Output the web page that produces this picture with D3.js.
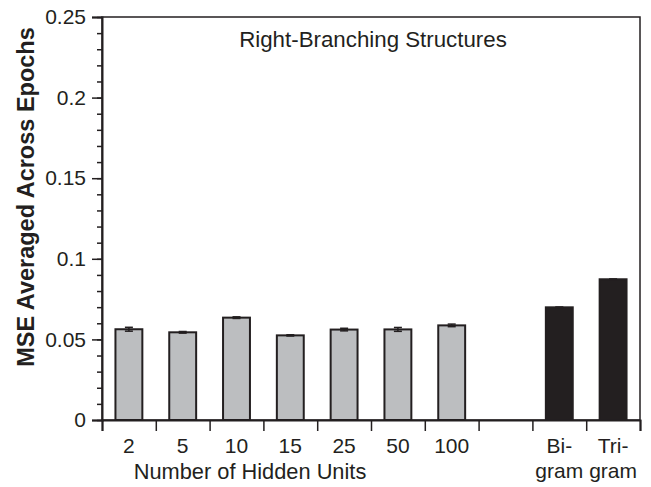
<!DOCTYPE html>
<html><head><meta charset="utf-8">
<script src="https://cdn.jsdelivr.net/npm/d3@7"></script>
<style>body{margin:0;background:#fff}svg{display:block}</style>
</head><body>
<script>
const categories = ["2","5","10","15","25","50","100","","Bi-\ngram","Tri-\ngram"];
const values = [0.0563,0.0544,0.0635,0.0525,0.0561,0.0562,0.0587,0,0.0699,0.0873];
const errors = [0.0012,0.0005,0.0005,0.0004,0.0008,0.0012,0.0008,0,0.0002,0.0002];
const kinds = ["net","net","net","net","net","net","net","none","ngram","ngram"];
const yTicks = [0,0.05,0.1,0.15,0.2,0.25];
const yTickLabels = ["0","0.05","0.1","0.15","0.2","0.25"];

const W=651,H=487;
const m={l:102,r:11,t:17,b:67};
const FONT="Liberation Sans, Arial, sans-serif";
const svg=d3.select("body").append("svg").attr("width",W).attr("height",H);
const x=d3.scaleBand().domain(d3.range(categories.length)).range([m.l,W-m.r]).paddingInner(0.5).paddingOuter(0.25);
const xb=d3.scaleLinear().domain([0,categories.length]).range([m.l,W-m.r]);
const y=d3.scaleLinear().domain([0,0.25]).range([H-m.b,m.t]);
const ink="#231f20";

// frame
svg.append("rect").attr("x",m.l).attr("y",m.t).attr("width",W-m.r-m.l).attr("height",H-m.b-m.t)
  .attr("fill","none").attr("stroke",ink).attr("stroke-width",1.5);

// bars
svg.selectAll("rect.bar").data(values).join("rect").attr("class","bar")
  .attr("x",(d,i)=>x(i)).attr("width",x.bandwidth())
  .attr("y",d=>y(d)).attr("height",d=>y(0)-y(d))
  .attr("fill",(d,i)=>kinds[i]==="ngram"?ink:"#bcbec0")
  .attr("stroke",(d,i)=>kinds[i]==="none"?"#999":ink).attr("stroke-width",2);

// error bars
const eg=svg.append("g").attr("stroke",ink).attr("stroke-width",1.5);
values.forEach((v,i)=>{
  if(kinds[i]==="none")return;
  const cx=x(i)+x.bandwidth()/2;
  eg.append("line").attr("x1",cx).attr("x2",cx).attr("y1",y(v-errors[i])).attr("y2",y(v+errors[i]));
  eg.append("line").attr("x1",cx-4).attr("x2",cx+4).attr("y1",y(v-errors[i])).attr("y2",y(v-errors[i]));
  eg.append("line").attr("x1",cx-4).attr("x2",cx+4).attr("y1",y(v+errors[i])).attr("y2",y(v+errors[i]));
});

// y axis
const ya=svg.append("g").attr("transform",`translate(${m.l},0)`)
  .call(d3.axisLeft(y).tickValues(d3.range(0,0.2501,0.01)).tickSize(5).tickFormat(""));
ya.select(".domain").remove();
ya.selectAll("line").attr("stroke",ink).attr("stroke-width",1.5);
const ym=svg.append("g").attr("transform",`translate(${m.l},0)`)
  .call(d3.axisLeft(y).tickValues(yTicks).tickSize(10).tickPadding(6).tickFormat((d,i)=>yTickLabels[i]));
ym.select(".domain").attr("stroke",ink).attr("stroke-width",2);
ym.selectAll("line").attr("stroke",ink).attr("stroke-width",1.5);
ym.selectAll("text").attr("font-family",FONT).attr("font-size",21).attr("fill",ink);

// x axis ticks at boundaries
const xa=svg.append("g").attr("transform",`translate(0,${H-m.b})`)
  .call(d3.axisBottom(xb).tickValues(d3.range(0,categories.length+1)).tickSize(11).tickFormat(""));
xa.select(".domain").attr("stroke",ink).attr("stroke-width",2);
xa.selectAll("line").attr("stroke",ink).attr("stroke-width",1.5);

// x labels
categories.forEach((c,i)=>{
  const lines=c.split("\n");
  const t=svg.append("text").attr("x",x(i)+x.bandwidth()/2).attr("y",453)
    .attr("text-anchor","middle").attr("font-family",FONT).attr("font-size",21).attr("fill",ink);
  lines.forEach((l,j)=>t.append("tspan").attr("x",x(i)+x.bandwidth()/2).attr("dy",j?25:0).text(l));
});

svg.append("text").attr("x",250).attr("y",479).attr("text-anchor","middle")
  .attr("font-family",FONT).attr("font-size",21.8).attr("fill",ink).text("Number of Hidden Units");

svg.append("text").attr("transform","translate(34,197) rotate(-90)").attr("text-anchor","middle")
  .attr("font-family",FONT).attr("font-size",23.5).attr("font-weight","bold").attr("fill",ink)
  .text("MSE Averaged Across Epochs");

svg.append("text").attr("x",373).attr("y",47).attr("text-anchor","middle")
  .attr("font-family",FONT).attr("font-size",22.3).attr("fill",ink).text("Right-Branching Structures");
</script>
</body></html>
